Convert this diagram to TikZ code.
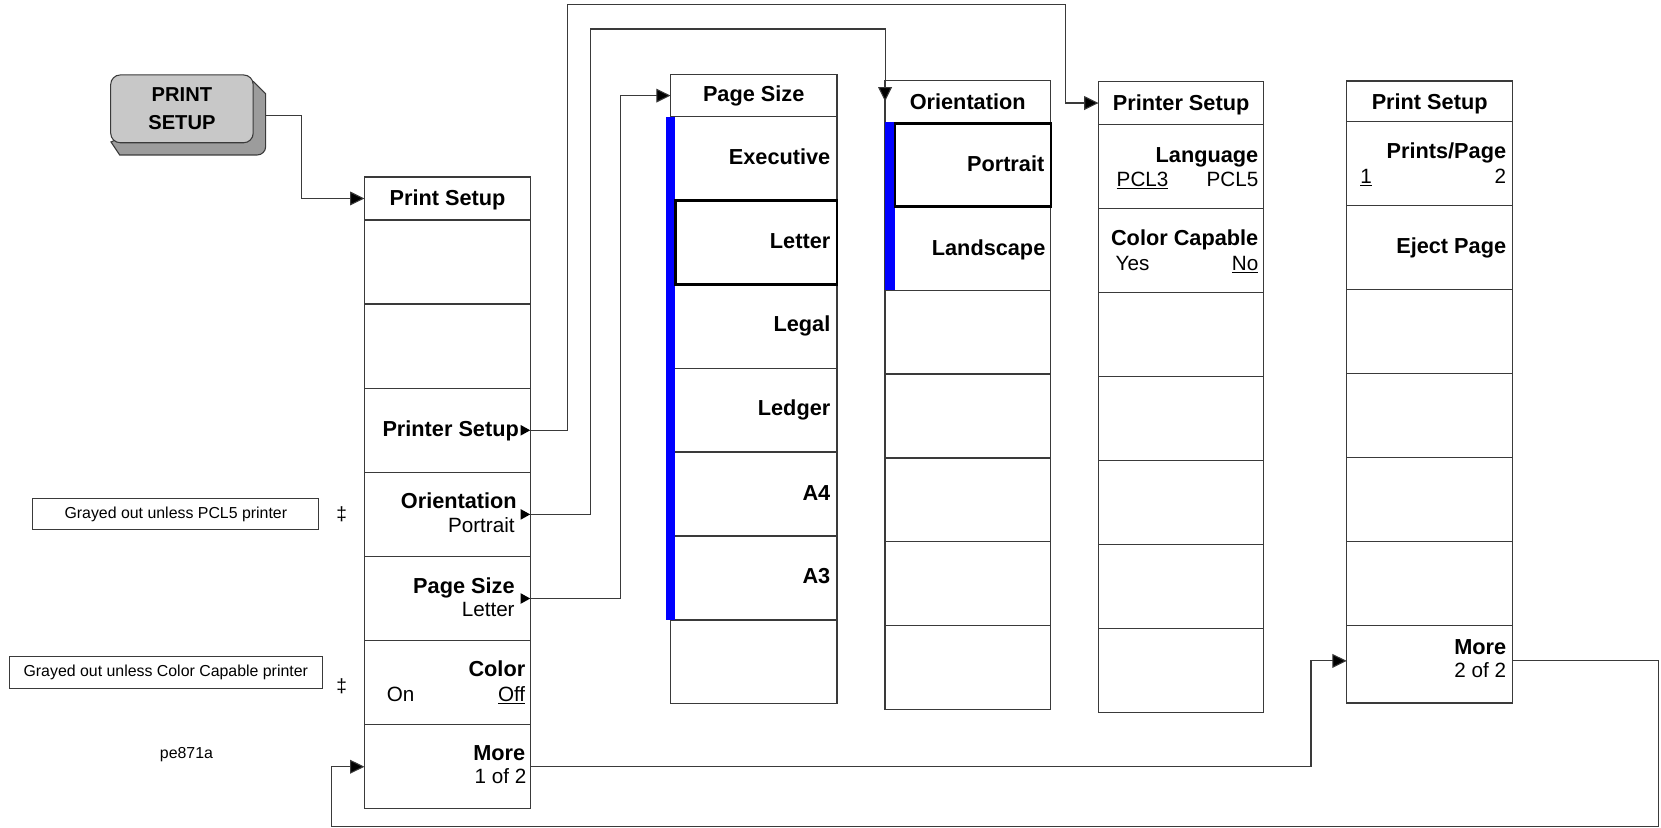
\documentclass[tikz,border=0pt]{standalone}
\usepackage{fontspec}
\setmainfont{Liberation Sans}
\usetikzlibrary{arrows.meta}
\definecolor{ln}{HTML}{3A3A3A}
\definecolor{btnfill}{HTML}{C8C8C8}
\definecolor{btnshade}{HTML}{9C9C9C}
\definecolor{selblue}{HTML}{0000FF}
\newcommand{\fb}{\fontsize{20.5}{22}\selectfont\bfseries}
\newcommand{\fr}{\fontsize{19.5}{21}\selectfont}
\newcommand{\fs}{\fontsize{15}{17}\selectfont}
\newcommand{\menucol}[7]{%
  \node[cell, minimum width=#3, minimum height=#5] (#1-0) at (#2,#4) {};
  \foreach \i in {1,...,#7} {
    \node[cell, minimum width=#3, minimum height=#6] (#1-\i) at (#2, {#4+#5+(\i-1)*#6}) {};
  }%
}
\begin{document}
\begin{tikzpicture}[x=1pt,y=-1pt,
  cell/.style={draw=ln, line width=1.2pt, rectangle, inner sep=0pt, outer sep=0pt, anchor=north west},
  selbox/.style={draw=black, line width=2.4pt},
  bl/.style={font=\fb, inner sep=0pt, anchor=base east},
  bh/.style={font=\fb, inner sep=0pt, anchor=base},
  rl/.style={font=\fr, inner sep=0pt, anchor=base east},
  rL/.style={font=\fr, inner sep=0pt, anchor=base west},
  note/.style={draw=ln, line width=1pt, font=\fs, inner sep=0pt},
  conn/.style={draw=ln, line width=1pt},
  arr/.style={conn, -{Triangle[length=13.5pt,width=13pt,fill=black]}},
  btn/.style={draw=ln, line width=1pt, fill=btnfill, rounded corners=9pt, inner sep=0pt,
    minimum width=134.5, minimum height=64, align=center, font=\fontsize{19}{26.5}\selectfont\bfseries}
]
\useasboundingbox (0,0) rectangle (1568,781);

% button
\fill[btnshade, draw=ln, line width=1pt] (239.2,77) -- (250.8,88.5) [rounded corners=8pt] -- (250.8,146.3) [sharp corners] -- (113,146.3) -- (104.8,134) -- cycle;
\node[btn] (btn) at (171.75,102.75) {PRINT\\SETUP};
\coordinate (btnout) at (250.8,108.6);

% columns
\menucol{c1}{344}{157}{167}{40.7}{79.4}{7}
\menucol{c2}{633}{157}{70.5}{39.5}{79.2}{7}
\menucol{c3}{835.5}{156.5}{76}{39.5}{79.2}{7}
\menucol{c4}{1037}{156}{77.1}{40.3}{79.3}{7}
\menucol{c5}{1271.3}{156.7}{76.5}{38.5}{79.2}{6}
\node[cell, minimum width=156.7, minimum height=73.4] (c5-7) at (1271.3,590.2) {};

% selection bars
\fill[selblue] (628.5,110) rectangle (637.5,585.2);
\fill[selblue] (835.5,115.5) rectangle (845,273.9);
\draw[selbox] (637.5,189.2) rectangle (790,268.4);
\draw[selbox] (845,116.5) rectangle (992,194.7);

% submenu triangles
\foreach \r in {3,4,5} {\fill ([xshift=-0.5pt]c1-\r.east) -- ++(-9,-5) -- ++(0,10) -- cycle;}

% column 1 texts
\node[bh] (t-c1h) at (422.5,194) {Print Setup};
\node[bl] (t-prs) at (490,412) {Printer Setup};
\node[bl] (t-ori) at (488,480) {Orientation};
\node[rl] (t-orv) at (486,503) {Portrait};
\node[bl] (t-pgs) at (486,560) {Page Size};
\node[rl] (t-pgv) at (486,582) {Letter};
\node[bl] (t-col) at (496,639) {Color};
\node[rL] (t-on) at (365,662) {On};
\node[rl] (t-off) at (496,662) {\underline{Off}};
\node[bl] (t-mo1) at (496,718) {More};
\node[rl] (t-mo1v) at (497,740) {1 of 2};

% column 2 texts
\node[bh] (t-c2h) at (711.5,96) {Page Size};
\node[bl] (t-exe) at (784,155) {Executive};
\node[bl] (t-let) at (784,235) {Letter};
\node[bl] (t-leg) at (784,313) {Legal};
\node[bl] (t-ldg) at (784,392) {Ledger};
\node[bl] (t-a4) at (784,472) {A4};
\node[bl] (t-a3) at (784,551) {A3};

% column 3 texts
\node[bh] (t-c3h) at (913.5,103) {Orientation};
\node[bl] (t-por) at (986,162) {Portrait};
\node[bl] (t-lan) at (987,241) {Landscape};

% column 4 texts
\node[bh] (t-c4h) at (1115,104) {Printer Setup};
\node[bl] (t-lng) at (1188,153) {Language};
\node[rL] (t-p3) at (1054,176) {\underline{PCL3}};
\node[rl] (t-p5) at (1188,176) {PCL5};
\node[bl] (t-cc) at (1188,232) {Color Capable};
\node[rL] (t-yes) at (1053,255) {Yes};
\node[rl] (t-no) at (1188,255) {\underline{No}};

% column 5 texts
\node[bh] (t-c5h) at (1349.6,103) {Print Setup};
\node[bl] (t-ppg) at (1422,150) {Prints/Page};
\node[rL] (t-one) at (1284,173) {\underline{1}};
\node[rl] (t-two) at (1422,173) {2};
\node[bl] (t-ej) at (1422,239) {Eject Page};
\node[bl] (t-mo2) at (1422,618) {More};
\node[rl] (t-mo2v) at (1422,640) {2 of 2};

% notes
\node[note, minimum width=270, minimum height=29] (n1) at (166,485.5) {Grayed out unless PCL5 printer};
\node[note, minimum width=295, minimum height=30] (n2) at (156.5,635) {Grayed out unless Color Capable printer};
\node[font=\fontsize{18}{20}\selectfont, inner sep=0pt] (d1) at (322.5,485) {‡};
\node[font=\fontsize{18}{20}\selectfont, inner sep=0pt] (d2) at (322.5,648) {‡};
\node[font=\fs, inner sep=0pt] (fig) at (176,712) {pe871a};

% connectors
\draw[arr] (btnout) -- (284.8,108.6) |- (c1-0.west);
\draw[arr] (c1-3.east) -- ++(34.5,0) |- (1005.4,4.5) |- (c4-0.west);
\draw[arr] (c1-4.east) -- ++(56,0) |- (835.5,27.4) -- (c3-0.west);
\draw[arr] (c1-5.east) -- ++(85,0) |- (c2-0.west);
\draw[arr] (c1-7.east) -- ++(736.6,0) |- ([yshift=3pt]c5-7.west);
\draw[arr] ([yshift=3pt]c5-7.east) -- ++(137.7,0) |- (313,780) |- (c1-7.west);
\end{tikzpicture}
\end{document}
